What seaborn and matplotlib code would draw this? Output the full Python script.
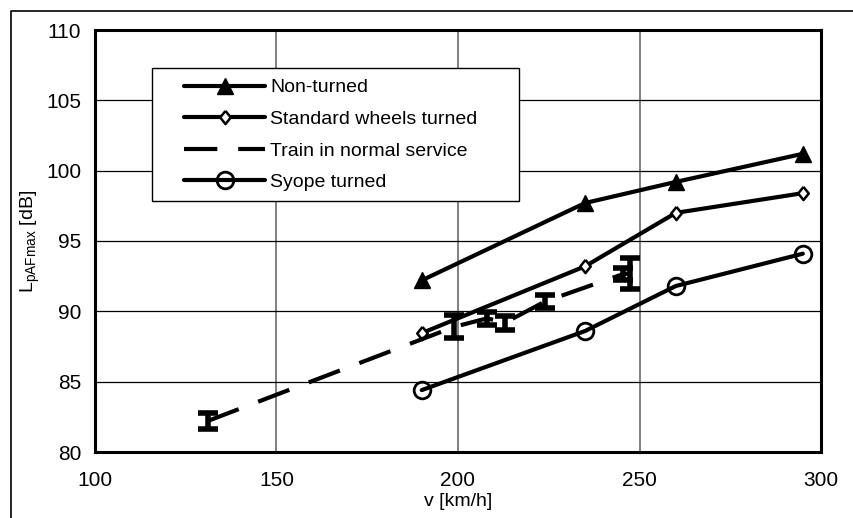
import matplotlib
matplotlib.use("Agg")
import matplotlib.pyplot as plt
import seaborn as sns
import pandas as pd
from matplotlib.lines import Line2D
from matplotlib.patches import Rectangle

# ---- data ----
v_nonturned = [190, 235, 260, 295]
L_nonturned = [92.2, 97.7, 99.2, 101.2]

v_standard = [190, 235, 260, 295]
L_standard = [88.45, 93.2, 97.0, 98.4]

v_train = [131, 199, 208, 213, 224, 245.5, 247.5]
L_train = [82.2, 88.9, 89.5, 89.2, 90.7, 92.65, 92.7]
err_train = [0.6, 0.83, 0.45, 0.5, 0.48, 0.45, 1.1]

v_syope = [190, 235, 260, 295]
L_syope = [84.4, 88.6, 91.8, 94.1]

labels = ["Non-turned", "Standard wheels turned", "Train in normal service", "Syope turned"]
xticks = [100, 150, 200, 250, 300]
yticks = [80, 85, 90, 95, 100, 105, 110]

sns.set_theme(style="white")
plt.rcParams["font.family"] = ["Liberation Sans", "DejaVu Sans"]
plt.rcParams["mathtext.fontset"] = "custom"
plt.rcParams["mathtext.rm"] = "Liberation Sans"

W, H = 854, 518
fig = plt.figure(figsize=(W / 100, H / 100), dpi=100)
ax = fig.add_axes([95 / W, 1 - 452 / H, (821 - 95) / W, (452 - 30) / H])

diamond = [(0, 1), (0.8, 0), (0, -1), (-0.8, 0), (0, 1)]

lw = 3
sns.lineplot(x=v_nonturned, y=L_nonturned, ax=ax, color="black", lw=lw,
             marker="^", markersize=12, markeredgecolor="black",
             markerfacecolor="black", markeredgewidth=1, label=labels[0])
sns.lineplot(x=v_standard, y=L_standard, ax=ax, color="black", lw=lw,
             marker=diamond, markersize=9.5, markeredgecolor="black",
             markerfacecolor="white", markeredgewidth=1.8, label=labels[1])
sns.lineplot(x=v_train, y=L_train, ax=ax, color="black", lw=lw,
             linestyle=(0, (8, 5)), label=labels[2], sort=True)
sns.lineplot(x=v_syope, y=L_syope, ax=ax, color="black", lw=lw,
             marker="o", markersize=12, markeredgecolor="black",
             markerfacecolor="none", markeredgewidth=2, label=labels[3])

ax.errorbar(v_train, L_train, yerr=err_train, fmt="none", ecolor="black",
            elinewidth=4, capsize=7, capthick=4)

ax.set_xlim(100, 300)
ax.set_ylim(80, 110)
ax.set_xticks(xticks)
ax.set_yticks(yticks)
ax.tick_params(axis="both", labelsize=15, colors="black", direction="out",
               length=4, width=1, pad=6)
ax.tick_params(axis="x", pad=10)

ax.grid(False)
for x in xticks[1:-1]:
    ax.axvline(x, color="#808080", lw=1.4, zorder=0)
for y in yticks[1:-1]:
    ax.axhline(y, color="black", lw=0.9, zorder=0)

for s in ax.spines.values():
    s.set_visible(True)
    s.set_color("black")
    s.set_linewidth(2.2)

ax.set_xlabel("v [km/h]", fontsize=14, color="black", labelpad=2)
ax.set_ylabel(r"L$_{\mathregular{pAFmax}}$ [dB]", fontsize=14, color="black", labelpad=0)
ax.yaxis.set_label_coords(-0.073, 0.5)

# legend box
def px2ax(px, py):
    return ((px - 95) / (821 - 95), (452 - py) / (452 - 30))

bx0, by0 = px2ax(152, 201)
bx1, by1 = px2ax(519, 68)
ax.add_patch(Rectangle((bx0, by0), bx1 - bx0, by1 - by0, transform=ax.transAxes,
                       facecolor="white", edgecolor="black", lw=1, zorder=5))
hx, hy = px2ax(176, 71)
handles, labs = ax.get_legend_handles_labels()
leg = ax.legend(handles, labs, loc="upper left", bbox_to_anchor=(hx, hy),
                frameon=False, fontsize=14, handlelength=4.2, handletextpad=0.25,
                labelspacing=0.72, borderaxespad=0, borderpad=0.4)
leg.set_zorder(6)
for t in leg.get_texts():
    t.set_color("black")

# outer frame
fig.add_artist(Line2D([11 / W, 11 / W, 1.0], [0, 1 - 11 / H, 1 - 11 / H],
                      transform=fig.transFigure, color="black", lw=1.2))

fig.savefig("out.png", dpi=100)
